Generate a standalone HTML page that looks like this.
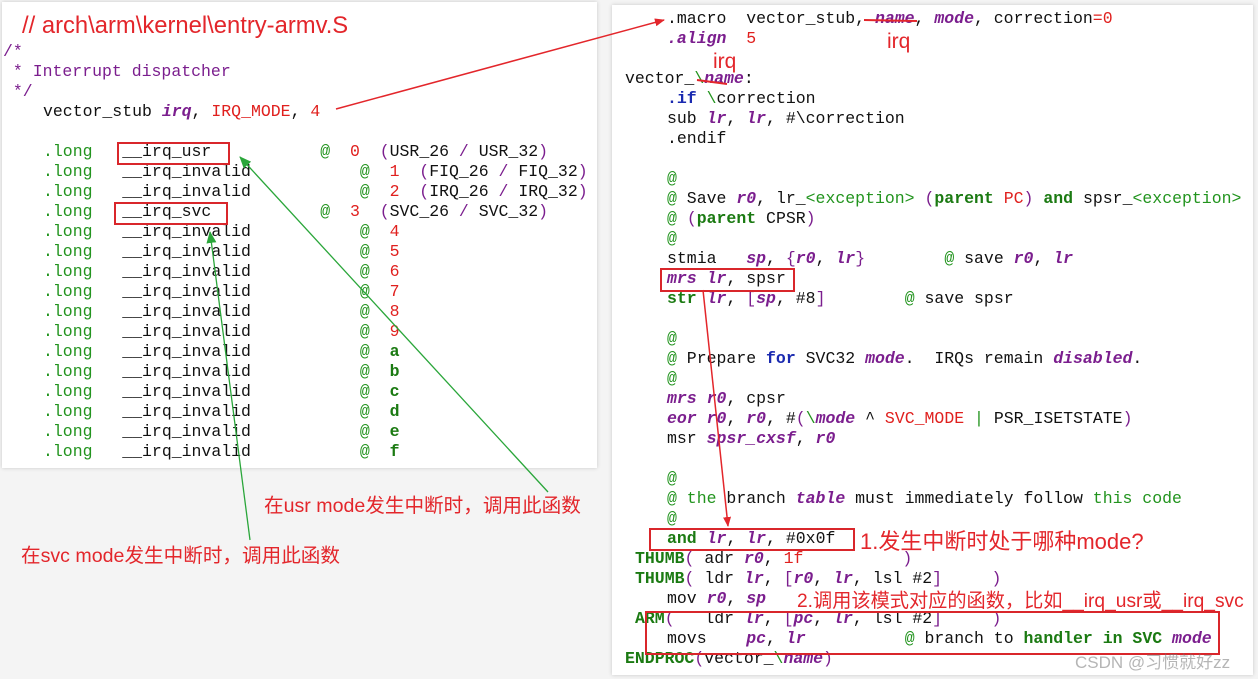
<!DOCTYPE html>
<html><head><meta charset="utf-8"><style>
html,body{margin:0;padding:0;background:#f4f4f4;}
body{width:1258px;height:679px;position:relative;overflow:hidden;font-family:"Liberation Mono",monospace;}
.panel{position:absolute;background:#fff;box-shadow:0 0 4px rgba(0,0,0,0.18);}
.l{position:absolute;white-space:pre;font-size:16.5px;line-height:20px;height:20px;color:#111;}
.g{color:#22941e}
.gb{color:#1b7a12;font-weight:bold}
.p{color:#7b1e8e;font-style:italic;font-weight:bold}
.pp{color:#7b1e8e}
.r{color:#e0201e}
.b{color:#1a2ab0;font-weight:bold}
.cn{position:absolute;white-space:nowrap;color:#e3262b;font-family:"Liberation Sans","Noto Sans CJK SC",sans-serif;}
.box{position:absolute;border:2px solid #d9262b;}
</style></head><body>
<div class="panel" style="left:2px;top:2px;width:595px;height:466px;"></div>
<div class="panel" style="left:612px;top:5px;width:641px;height:670px;"></div>

<div class="cn" style="left:22px;top:12px;font-size:23.8px;">// arch\arm\kernel\entry-armv.S</div>
<div class="l pp" style="left:3px;top:42px;">/*</div>
<div class="l pp" style="left:3px;top:62px;"> * Interrupt dispatcher</div>
<div class="l pp" style="left:3px;top:82px;"> */</div>
<div class="l" style="left:43px;top:102px;">vector_stub <span class="p">irq</span>, <span class="r">IRQ_MODE</span>, <span class="r">4</span></div>
<div class="l" style="left:43px;top:142px;"><span class="g">.long</span>   __irq_usr           <span class="g">@</span>  <span class="r">0</span>  <span class="pp">(</span>USR_26 <span class="pp">/</span> USR_32<span class="pp">)</span></div>
<div class="l" style="left:43px;top:162px;"><span class="g">.long</span>   __irq_invalid           <span class="g">@</span>  <span class="r">1</span>  <span class="pp">(</span>FIQ_26 <span class="pp">/</span> FIQ_32<span class="pp">)</span></div>
<div class="l" style="left:43px;top:182px;"><span class="g">.long</span>   __irq_invalid           <span class="g">@</span>  <span class="r">2</span>  <span class="pp">(</span>IRQ_26 <span class="pp">/</span> IRQ_32<span class="pp">)</span></div>
<div class="l" style="left:43px;top:202px;"><span class="g">.long</span>   __irq_svc           <span class="g">@</span>  <span class="r">3</span>  <span class="pp">(</span>SVC_26 <span class="pp">/</span> SVC_32<span class="pp">)</span></div>
<div class="l" style="left:43px;top:222px;"><span class="g">.long</span>   __irq_invalid           <span class="g">@</span>  <span class="r">4</span></div>
<div class="l" style="left:43px;top:242px;"><span class="g">.long</span>   __irq_invalid           <span class="g">@</span>  <span class="r">5</span></div>
<div class="l" style="left:43px;top:262px;"><span class="g">.long</span>   __irq_invalid           <span class="g">@</span>  <span class="r">6</span></div>
<div class="l" style="left:43px;top:282px;"><span class="g">.long</span>   __irq_invalid           <span class="g">@</span>  <span class="r">7</span></div>
<div class="l" style="left:43px;top:302px;"><span class="g">.long</span>   __irq_invalid           <span class="g">@</span>  <span class="r">8</span></div>
<div class="l" style="left:43px;top:322px;"><span class="g">.long</span>   __irq_invalid           <span class="g">@</span>  <span class="r">9</span></div>
<div class="l" style="left:43px;top:342px;"><span class="g">.long</span>   __irq_invalid           <span class="g">@</span>  <span class="gb">a</span></div>
<div class="l" style="left:43px;top:362px;"><span class="g">.long</span>   __irq_invalid           <span class="g">@</span>  <span class="gb">b</span></div>
<div class="l" style="left:43px;top:382px;"><span class="g">.long</span>   __irq_invalid           <span class="g">@</span>  <span class="gb">c</span></div>
<div class="l" style="left:43px;top:402px;"><span class="g">.long</span>   __irq_invalid           <span class="g">@</span>  <span class="gb">d</span></div>
<div class="l" style="left:43px;top:422px;"><span class="g">.long</span>   __irq_invalid           <span class="g">@</span>  <span class="gb">e</span></div>
<div class="l" style="left:43px;top:442px;"><span class="g">.long</span>   __irq_invalid           <span class="g">@</span>  <span class="gb">f</span></div>
<div class="box" style="left:117px;top:142px;width:109px;height:19px;"></div>
<div class="box" style="left:114px;top:202px;width:110px;height:19px;"></div>

<!-- right -->
<div class="l" style="left:667px;top:9px;">.macro  vector_stub, <span class="p" style="color:#7b1e8e">name</span>, <span class="p">mode</span>, correction<span class="r">=0</span></div>
<div class="l" style="left:667px;top:29px;"><span class="p">.align</span>  <span class="r">5</span></div>
<div class="l" style="left:625px;top:69px;">vector_<span class="g">\</span><span class="p">name</span>:</div>
<div class="l" style="left:667px;top:89px;"><span class="b">.if</span> <span class="g">\</span>correction</div>
<div class="l" style="left:667px;top:109px;">sub <span class="p">lr</span>, <span class="p">lr</span>, #\correction</div>
<div class="l" style="left:667px;top:129px;">.endif</div>
<div class="l g" style="left:667px;top:169px;">@</div>
<div class="l" style="left:667px;top:189px;"><span class="g">@</span> Save <span class="p">r0</span>, lr_<span class="g">&lt;exception&gt;</span> <span class="pp">(</span><span class="gb">parent</span> <span class="r">PC</span><span class="pp">)</span> <span class="gb">and</span> spsr_<span class="g">&lt;exception&gt;</span></div>
<div class="l" style="left:667px;top:209px;"><span class="g">@</span> <span class="pp">(</span><span class="gb">parent</span> CPSR<span class="pp">)</span></div>
<div class="l g" style="left:667px;top:229px;">@</div>
<div class="l" style="left:667px;top:249px;">stmia   <span class="p">sp</span>, <span class="pp">{</span><span class="p">r0</span>, <span class="p">lr</span><span class="pp">}</span>        <span class="g">@</span> save <span class="p">r0</span>, <span class="p">lr</span></div>
<div class="l" style="left:667px;top:269px;"><span class="p">mrs</span> <span class="p">lr</span>, spsr</div>
<div class="l" style="left:667px;top:289px;"><span class="gb">str</span> <span class="p">lr</span>, <span class="pp">[</span><span class="p">sp</span>, #8<span class="pp">]</span>        <span class="g">@</span> save spsr</div>
<div class="l g" style="left:667px;top:329px;">@</div>
<div class="l" style="left:667px;top:349px;"><span class="g">@</span> Prepare <span class="b">for</span> SVC32 <span class="p">mode</span>.  IRQs remain <span class="p">disabled</span>.</div>
<div class="l g" style="left:667px;top:369px;">@</div>
<div class="l" style="left:667px;top:389px;"><span class="p">mrs</span> <span class="p">r0</span>, cpsr</div>
<div class="l" style="left:667px;top:409px;"><span class="p">eor</span> <span class="p">r0</span>, <span class="p">r0</span>, #<span class="pp">(</span><span class="g">\</span><span class="p">mode</span> ^ <span class="r">SVC_MODE</span> <span class="g">|</span> PSR_ISETSTATE<span class="pp">)</span></div>
<div class="l" style="left:667px;top:429px;">msr <span class="p">spsr_cxsf</span>, <span class="p">r0</span></div>
<div class="l g" style="left:667px;top:469px;">@</div>
<div class="l" style="left:667px;top:489px;"><span class="g">@ the</span> branch <span class="p">table</span> must immediately follow <span class="g">this code</span></div>
<div class="l g" style="left:667px;top:509px;">@</div>
<div class="l" style="left:667px;top:529px;"><span class="gb">and</span> <span class="p">lr</span>, <span class="p">lr</span>, #0x0f</div>
<div class="l" style="left:635px;top:549px;"><span class="gb">THUMB</span><span class="pp">(</span> adr <span class="p">r0</span>, <span class="r">1f</span>          <span class="pp">)</span></div>
<div class="l" style="left:635px;top:569px;"><span class="gb">THUMB</span><span class="pp">(</span> ldr <span class="p">lr</span>, <span class="pp">[</span><span class="p">r0</span>, <span class="p">lr</span>, lsl #2<span class="pp">]</span>     <span class="pp">)</span></div>
<div class="l" style="left:667px;top:589px;">mov <span class="p">r0</span>, <span class="p">sp</span></div>
<div class="l" style="left:635px;top:609px;"><span class="gb">ARM</span><span class="pp">(</span>   ldr <span class="p">lr</span>, <span class="pp">[</span><span class="p">pc</span>, <span class="p">lr</span>, lsl #2<span class="pp">]</span>     <span class="pp">)</span></div>
<div class="l" style="left:667px;top:629px;">movs    <span class="p">pc</span>, <span class="p">lr</span>          <span class="g">@</span> branch to <span class="gb">handler in SVC</span> <span class="p">mode</span></div>
<div class="l" style="left:625px;top:649px;"><span class="gb">ENDPROC</span><span class="pp">(</span>vector_<span class="g">\</span><span class="p">name</span><span class="pp">)</span></div>

<div class="box" style="left:660px;top:268px;width:131px;height:20px;"></div>
<div class="box" style="left:649px;top:528px;width:202px;height:19px;"></div>
<div class="box" style="left:645px;top:611px;width:571px;height:40px;"></div>

<div class="cn" style="left:887px;top:30px;font-size:21px;">irq</div>
<div class="cn" style="left:713px;top:50px;font-size:21px;">irq</div>
<div class="cn" style="left:860px;top:524px;font-size:22px;">1.发生中断时处于哪种mode?</div>
<div class="cn" style="left:797px;top:585px;font-size:19.2px;">2.调用该模式对应的函数，比如__irq_usr或__irq_svc</div>
<div class="cn" style="left:264px;top:489px;font-size:19.6px;">在usr mode发生中断时，调用此函数</div>
<div class="cn" style="left:21px;top:539px;font-size:19.6px;">在svc mode发生中断时，调用此函数</div>
<div class="cn" style="left:1075px;top:648px;font-size:17px;color:rgba(120,120,120,0.55);">CSDN @习惯就好zz</div>

<svg width="1258" height="679" style="position:absolute;left:0;top:0;" xmlns="http://www.w3.org/2000/svg">
<defs>
<marker id="ar" markerWidth="10" markerHeight="8" refX="9" refY="4" orient="auto" markerUnits="userSpaceOnUse"><path d="M0,0 L10,4 L0,8 z" fill="#e3262b"/></marker>
<marker id="ag" markerWidth="12" markerHeight="10" refX="11" refY="5" orient="auto" markerUnits="userSpaceOnUse"><path d="M0,0 L12,5 L0,10 z" fill="#2aa63a"/></marker>
</defs>
<line x1="336" y1="109" x2="664" y2="20" stroke="#e3262b" stroke-width="1.5" marker-end="url(#ar)"/>
<line x1="548" y1="492" x2="240" y2="157" stroke="#2aa63a" stroke-width="1.3" marker-end="url(#ag)"/>
<line x1="250" y1="540" x2="210" y2="232" stroke="#2aa63a" stroke-width="1.3" marker-end="url(#ag)"/>
<line x1="703" y1="290" x2="728" y2="526" stroke="#e3262b" stroke-width="1.5" marker-end="url(#ar)"/>
<line x1="864" y1="20" x2="917" y2="21" stroke="#e3262b" stroke-width="2"/>
<line x1="697" y1="80" x2="727" y2="84" stroke="#e3262b" stroke-width="2"/>
</svg>
</body></html>
